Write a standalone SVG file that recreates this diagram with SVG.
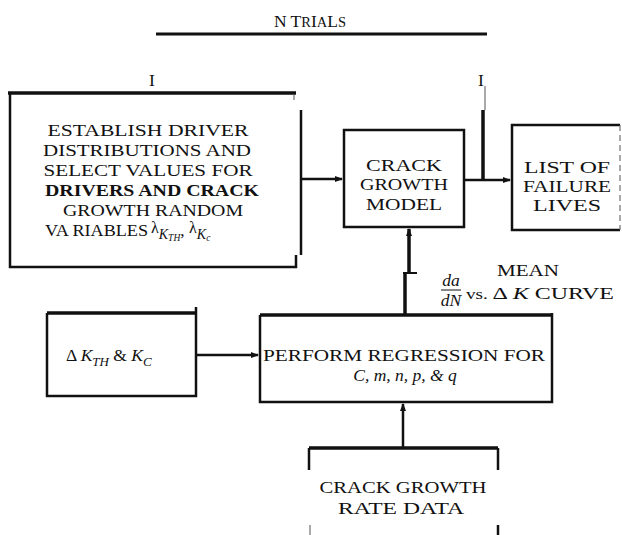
<svg xmlns="http://www.w3.org/2000/svg" width="622" height="535" viewBox="0 0 622 535">
<style>
.t{font-family:"Liberation Serif","Times New Roman",serif;font-size:17.5px;fill:#111;}
.c{text-anchor:middle;}
.i{font-style:italic;}
.b{fill:none;stroke:#111;stroke-width:2.5;}
.bt{fill:none;stroke:#111;stroke-width:3.5;}
.ln{fill:none;stroke:#111;stroke-width:2.5;}
.thin{fill:none;stroke:#555;stroke-width:1;}
</style>
<defs>
<marker id="ah" markerWidth="8" markerHeight="8" refX="7" refY="4" orient="auto" markerUnits="userSpaceOnUse">
<path d="M0,1 L8,4 L0,7 Z" fill="#111"/>
</marker>
</defs>
<rect width="622" height="535" fill="#fff"/>

<g id="title">
<text class="t c" x="310" y="27" font-size="19.5">N  T<tspan font-size="14.5">R</tspan>I<tspan font-size="14.5">A</tspan>L<tspan font-size="14.5">S</tspan></text>
<line x1="156" y1="34" x2="487" y2="34" stroke="#111" stroke-width="3"/>
</g>

<g id="marks">
<text class="t c" x="152" y="86" font-size="18">I</text>
<text class="t c" x="481" y="86" font-size="18">I</text>
</g>

<g id="establish">
<path class="bt" d="M8,93 L296,93"/>
<path class="b" d="M10,93 L10,267 L296,267 L296,255"/>
<path class="b" d="M301,110 L301,255"/>
<path class="thin" d="M294,94 L294,100"/>
<text class="t c" x="148" y="136" textLength="201" lengthAdjust="spacingAndGlyphs">ESTABLISH DRIVER</text>
<text class="t c" x="147" y="156" textLength="208" lengthAdjust="spacingAndGlyphs">DISTRIBUTIONS AND</text>
<text class="t c" x="148" y="176" textLength="209" lengthAdjust="spacingAndGlyphs">SELECT VALUES FOR</text>
<text class="t c" x="152" y="196" font-weight="bold" textLength="214" lengthAdjust="spacingAndGlyphs">DRIVERS AND CRACK</text>
<text class="t c" x="153" y="216" textLength="180" lengthAdjust="spacingAndGlyphs">GROWTH RANDOM</text>
<text class="t" x="45" y="236"><tspan textLength="103" lengthAdjust="spacingAndGlyphs">VA RIABLES</tspan><tspan x="151" dy="-3" font-size="16">λ</tspan><tspan class="i" font-size="14" dy="6">K</tspan><tspan class="i" font-size="9.5" dy="2">TH</tspan><tspan dy="-5">, </tspan><tspan dy="-3" font-size="16">λ</tspan><tspan class="i" font-size="14" dy="6">K</tspan><tspan class="i" font-size="9.5" dy="2">c</tspan></text>
</g>

<g id="crackmodel">
<rect class="b" x="344" y="130" width="120" height="97"/>
<text class="t c" x="404" y="171" textLength="76" lengthAdjust="spacingAndGlyphs">CRACK</text>
<text class="t c" x="404" y="190" textLength="88" lengthAdjust="spacingAndGlyphs">GROWTH</text>
<text class="t c" x="404" y="210" textLength="76" lengthAdjust="spacingAndGlyphs">MODEL</text>
</g>

<g id="failure">
<path class="b" d="M620,125 L512,125 L512,230 L620,230"/>
<path class="thin" d="M620,125 L620,230" stroke-dasharray="6,4"/>
<text class="t c" x="567" y="173" font-size="15" textLength="86" lengthAdjust="spacingAndGlyphs">LIST OF</text>
<text class="t c" x="567" y="192" font-size="15" textLength="88" lengthAdjust="spacingAndGlyphs">FAILURE</text>
<text class="t c" x="567" y="211" font-size="15" textLength="68" lengthAdjust="spacingAndGlyphs">LIVES</text>
</g>

<g id="mean">
<text class="t c" x="528" y="276" textLength="62" lengthAdjust="spacingAndGlyphs">MEAN</text>
<text class="t c i" x="451" y="286" font-size="15">da</text>
<line x1="441" y1="290" x2="461" y2="290" stroke="#111" stroke-width="1"/>
<text class="t c i" x="451" y="306" font-size="15">dN</text>
<text class="t" x="466" y="299" textLength="148" lengthAdjust="spacingAndGlyphs"><tspan font-size="14">vs. </tspan>Δ <tspan class="i">K</tspan> CURVE</text>
</g>

<g id="deltak">
<path class="bt" d="M47,313 L196,313"/>
<path class="b" d="M47,313 L47,396 L196,396 L196,307"/>
<text class="t" x="66" y="361" font-size="19">Δ <tspan class="i">K</tspan><tspan class="i" font-size="13" dy="5">TH</tspan><tspan dy="-5">  &amp;  </tspan><tspan class="i">K</tspan><tspan class="i" font-size="13" dy="5">C</tspan></text>
</g>

<g id="regression">
<path class="bt" d="M260,315 L553,315"/>
<path class="b" d="M260,315 L260,402 L552,402 L552,313"/>
<text class="t c" x="404" y="361" font-size="18" textLength="282" lengthAdjust="spacingAndGlyphs">PERFORM REGRESSION FOR</text>
<text class="t c i" x="405" y="381" font-size="17">C, m, n, p, &amp; q</text>
</g>

<g id="ratedata">
<path class="bt" d="M309,448 L498,448"/>
<path class="b" d="M309,448 L309,470 M498,448 L498,470"/>
<path class="thin" d="M310,525 L310,535"/>
<path class="b" d="M498,525 L498,535" stroke-width="3"/>
<text class="t c" x="403" y="493" textLength="167" lengthAdjust="spacingAndGlyphs">CRACK GROWTH</text>
<text class="t c" x="401" y="514" textLength="126" lengthAdjust="spacingAndGlyphs">RATE  DATA</text>
</g>

<g id="connectors">
<path class="ln" d="M301,179 L342,179" marker-end="url(#ah)"/>
<path class="ln" d="M464,180 L510,180" marker-end="url(#ah)"/>
<path d="M483,110 L483,180" stroke="#111" stroke-width="3.5" fill="none"/>
<path class="thin" d="M485,86 L485,110"/>
<path d="M405,315 L405,273" stroke="#111" stroke-width="3.5" fill="none"/>
<path d="M403,273 L417,273" stroke="#111" stroke-width="2" fill="none"/>
<path d="M409,273 L409,229" stroke="#111" stroke-width="3.5" fill="none" marker-end="url(#ah)"/>
<path class="ln" d="M403,448 L403,404" marker-end="url(#ah)"/>
<path class="ln" d="M196,355 L258,355" marker-end="url(#ah)"/>
</g>
</svg>
